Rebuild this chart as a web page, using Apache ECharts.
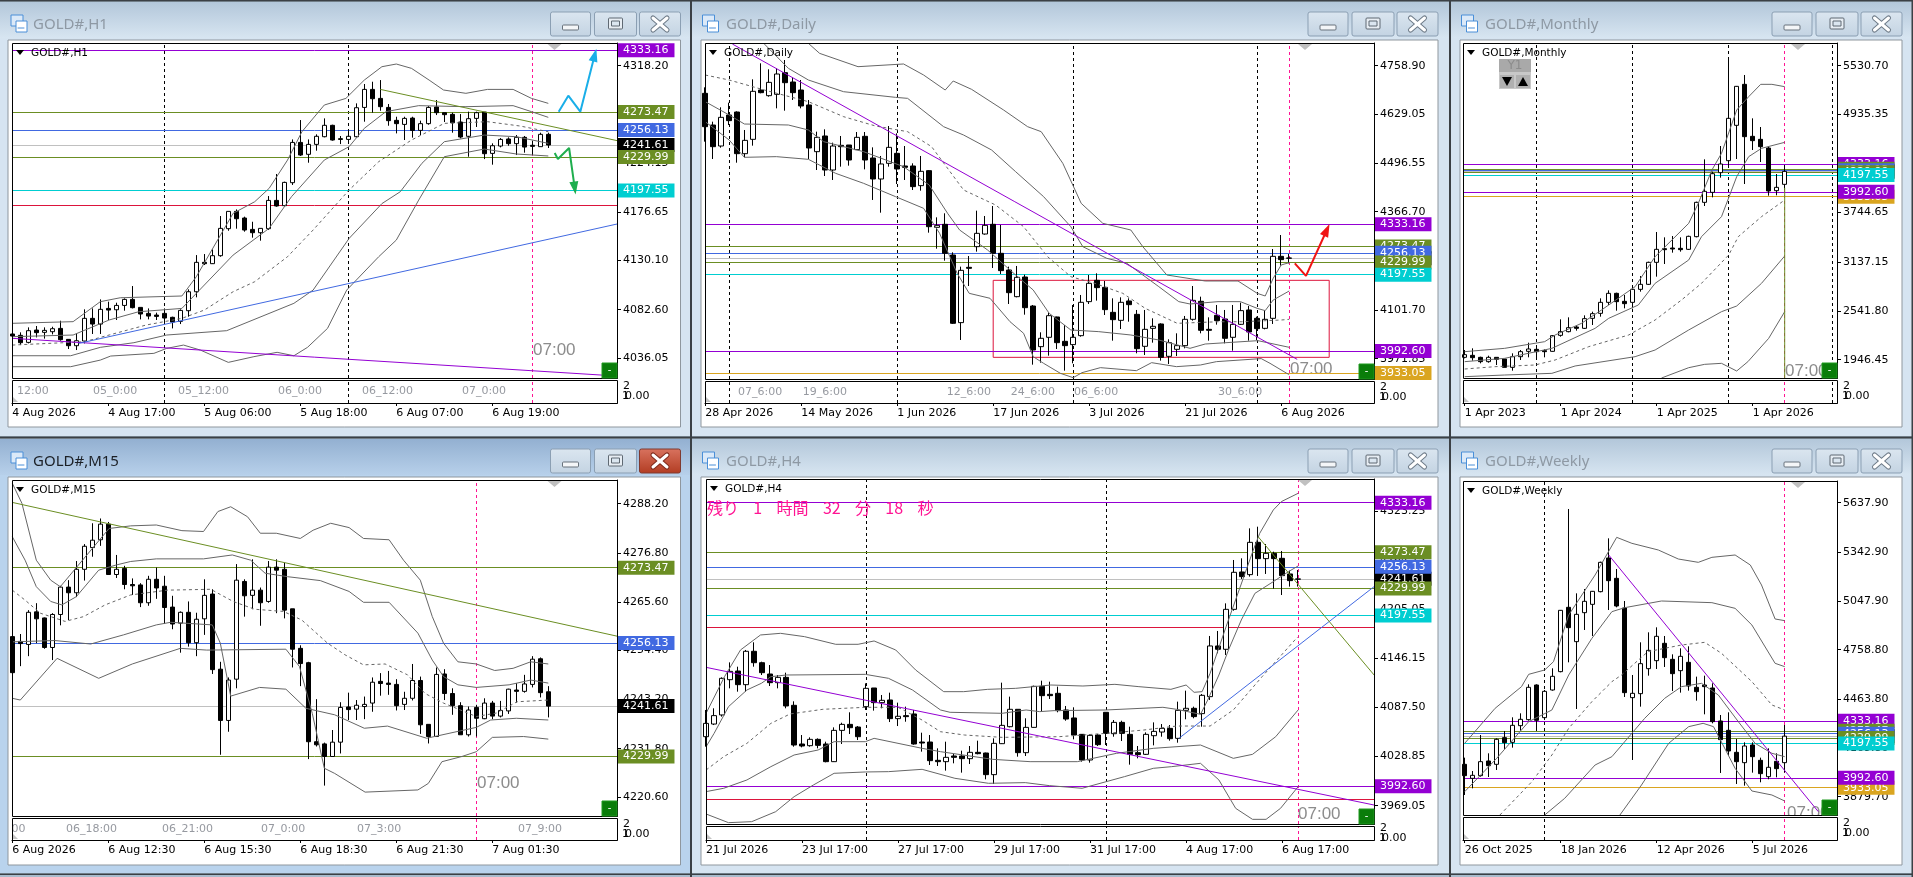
<!DOCTYPE html>
<html><head><meta charset="utf-8">
<style>html,body{margin:0;padding:0;background:#d6e4f1;overflow:hidden}#c{width:1913px;height:877px}</style>
<script src="https://cdn.jsdelivr.net/npm/echarts@6/dist/echarts.min.js"></script>
</head><body><div id="c"></div>
<script>
// ---------- candle rows are [open, high, low, close] ----------
const h1Candles=[[4059.1,4063.6,4053.3,4057.1],[4057.8,4060.7,4048.4,4050.7],[4051,4065.5,4050,4062.3],[4062.9,4066.8,4055.8,4060.4],[4060.7,4065.5,4054.6,4062.6],[4061.3,4066.1,4058.7,4064.2],[4064.5,4071.9,4052.6,4053.6],[4053.9,4053.9,4044.6,4047.8],[4047.8,4059.7,4043.6,4052.6],[4052.3,4082.9,4050,4074.2],[4074.2,4083.8,4059.1,4068.7],[4068.7,4092.5,4059.1,4082.9],[4083.8,4090.3,4072.6,4082.2],[4082.5,4089.3,4072.6,4086.7],[4086.7,4093.5,4081.6,4092.5],[4092.5,4105.4,4083.8,4084.5],[4084.8,4084.8,4073.2,4078.4],[4079,4083.8,4073.2,4076.4],[4077.4,4079.7,4072.6,4076.1],[4079,4083.8,4071,4074.5],[4075.2,4075.8,4064.5,4070.6],[4071.3,4082.9,4068.7,4081.9],[4081.6,4102.2,4075.8,4099.9],[4099.9,4135.3,4094.5,4128.3],[4128.3,4136.3,4125.7,4127],[4127,4140.8,4126.7,4134.7],[4134.7,4173,4133.7,4161.1],[4160.8,4177.5,4158.8,4177.5],[4177.5,4179.4,4160.8,4170.4],[4171.1,4172.4,4157.9,4159.5],[4160.1,4167.5,4152.1,4156.9],[4156.9,4161.1,4149.2,4161.1],[4160.8,4192.3,4159.5,4188.1],[4188.1,4213.6,4182,4182.7],[4183,4206.2,4182.7,4205.5],[4205.2,4247,4203,4244.1],[4244.1,4265.7,4231,4231.9],[4232.6,4247,4224.5,4242.2],[4242.2,4251.9,4236.1,4250],[4249.6,4267.3,4249,4260.6],[4260.6,4261.2,4245.8,4246.4],[4247.7,4250.3,4242.5,4247],[4247,4256,4244.8,4250],[4249.6,4281.8,4249,4277.6],[4277.9,4300.5,4264.1,4295.3],[4295.3,4302.7,4272.8,4286.3],[4286.6,4304.3,4274.7,4278.6],[4277.9,4281.2,4260.2,4265.1],[4265.4,4268.9,4252.8,4262.2],[4261.5,4268.9,4246.4,4267.3],[4267.6,4268.9,4248.7,4255.7],[4255.7,4265.1,4251.2,4262.2],[4262.2,4279.2,4261.2,4277.9],[4278.3,4285,4270.5,4272.8],[4272.8,4272.8,4263.8,4270.9],[4271.2,4272.8,4253.5,4263.1],[4263.8,4271.5,4248,4249.3],[4250,4273.8,4230.3,4267],[4267.3,4273.8,4259,4272.8],[4273.4,4273.4,4228,4233.2],[4233.5,4243.2,4222.6,4240.9],[4240.6,4248.3,4239.3,4247],[4247.4,4249,4240.9,4242.9],[4242.9,4251.2,4231.9,4249],[4249,4250.3,4234.2,4239.6],[4241.3,4245.8,4231.9,4240.3],[4240,4253.5,4240,4251.9],[4251.9,4253.5,4238.7,4241.6]];
const m15Candles=[[4257.6,4258,4249.3,4249.3],[4256.5,4258.2,4250.8,4256],[4255.8,4263.7,4253.1,4263.2],[4263.3,4265.3,4256.1,4261.7],[4261.9,4262,4254.8,4255.1],[4255.1,4263,4252.2,4262.7],[4262.7,4269.3,4260.2,4269],[4269,4270.6,4261.4,4267.7],[4267.7,4275,4266.7,4273.1],[4273.1,4278.9,4270.5,4278.4],[4278.1,4283.7,4276,4279.8],[4279.9,4284.8,4278.5,4283.5],[4283.5,4284,4271.9,4271.9],[4271.9,4276.4,4271.1,4273.1],[4273.3,4273.9,4268.5,4269.6],[4269.6,4271,4267.2,4269.3],[4269.5,4269.9,4264.4,4265.4],[4265.4,4271.6,4264.7,4270.8],[4270.8,4273.5,4266.3,4268.8],[4269.2,4271.6,4260.5,4264.3],[4264.4,4267,4259.3,4260.5],[4260.7,4263.4,4253.9,4263.2],[4263.2,4265.7,4255.3,4256.2],[4256.2,4263.1,4253.1,4261.6],[4261.7,4270.8,4258,4267.1],[4267.4,4268.5,4249,4250],[4250.1,4251.8,4230.4,4238.3],[4238.3,4248.2,4235.7,4247.6],[4247.8,4274.3,4245.7,4270.6],[4270.3,4270.8,4262.2,4267],[4267.1,4275.4,4263.9,4268.3],[4268.3,4268.9,4260.1,4265.4],[4265.7,4275,4265.4,4273.6],[4273.6,4275.4,4263,4272.9],[4273.1,4274.6,4261.8,4263.7],[4264,4264,4250.5,4254.7],[4254.9,4255.6,4246.2,4251.4],[4251.6,4251.8,4229.4,4233.4],[4233.4,4243.2,4232.3,4232.7],[4232.9,4233.2,4223.3,4230],[4230,4236.1,4230,4233.3],[4233.3,4242.5,4230.7,4241.3],[4241.4,4244.7,4238.4,4240.8],[4240.9,4243,4238.4,4241.8],[4241.5,4243.8,4238.6,4242],[4242.3,4248.2,4240.3,4247.1],[4247.3,4249.2,4244,4246.8],[4246.9,4249.7,4244.2,4246.6],[4246.6,4247.8,4240.6,4241.7],[4242,4244.9,4240.7,4243.4],[4243.4,4251.3,4242.9,4247.5],[4247.5,4248.4,4235.2,4237.3],[4237.4,4237.4,4233,4234.6],[4234.6,4250.5,4234.6,4248.9],[4249,4250.1,4243,4244.5],[4244.5,4245.7,4239.6,4241.7],[4241.7,4242.5,4235,4235],[4235,4241.5,4234.6,4240.7],[4241.3,4241.9,4234.6,4238.8],[4238.7,4243.4,4238.6,4242.3],[4242.3,4242.8,4238.6,4239.3],[4239.3,4242.8,4239,4240.6],[4240.5,4245.6,4239.8,4245.5],[4245.3,4246.9,4242.4,4245],[4245,4248.8,4244.7,4246.7],[4246.6,4253.1,4245.9,4252.4],[4252.5,4252.8,4243.6,4244.7],[4244.9,4246.2,4239,4241.6]];
const dailyCandles=[[4684.6,4700.7,4554.8,4595],[4599.5,4608.5,4508.2,4541.3],[4543.1,4647,4538.6,4620.1],[4626.4,4659.5,4599.5,4611.2],[4634.4,4636.2,4498.3,4522.5],[4522.5,4586.1,4512.7,4558.3],[4561,4722.2,4544,4690],[4693.5,4765.2,4684.6,4686.4],[4678.3,4749.1,4675.6,4714.1],[4681.9,4751.7,4644.3,4736.5],[4740.1,4774.1,4638,4713.2],[4715,4727.6,4666.7,4686.4],[4693.5,4720.4,4644.3,4650.6],[4653.3,4666.7,4508.2,4537.7],[4527.9,4581.6,4478.6,4566.4],[4570,4587.9,4462.5,4478.6],[4478.6,4552.1,4451.8,4543.1],[4544.9,4570,4487.6,4541.3],[4545.8,4545.8,4490.3,4505.5],[4533.3,4580.7,4532.4,4566.4],[4569.1,4580.7,4480.4,4505.5],[4510.9,4539.5,4398.1,4454.5],[4454.5,4516.3,4364,4494.8],[4496.6,4596.8,4487.6,4539.5],[4523.4,4577.1,4441,4481.3],[4489.4,4543.1,4451.8,4485.8],[4489.4,4496.6,4424.9,4433.9],[4436.6,4516.3,4423.1,4475.1],[4476.9,4478.6,4310.3,4326.4],[4324.6,4351.5,4267.3,4330],[4332.7,4362.3,4235.1,4254.8],[4250.3,4257.5,4065,4066.8],[4068.6,4219,4022,4209.1],[4217.2,4247.6,4167,4214.5],[4272.7,4369.4,4259.3,4308.5],[4306.7,4355.1,4304.9,4330],[4332.7,4381.9,4215.4,4254.8],[4254.8,4330.9,4199.3,4208.3],[4210,4219,4118.7,4149.1],[4138.4,4220.8,4136.6,4190.3],[4191.2,4197.5,4090,4108.8],[4113.3,4116,3955.7,3995.1],[4004.1,4042.6,3961.1,4026.5],[4029.2,4095.4,3979.9,4087.3],[4083.8,4084.7,3997.8,4014.8],[4018.4,4062.3,3939.6,4006.8],[4009.5,4116,3959.3,4029.2],[4033.6,4142.9,4030.9,4123.2],[4125,4196.6,4118.7,4174.2],[4182.3,4201.1,4127.7,4162.6],[4163.5,4180.5,4089.1,4103.5],[4096.3,4133.9,4020.2,4076.6],[4074.8,4136.6,4051.5,4123.2],[4126.8,4133.9,4071.2,4116.9],[4090.9,4102.6,3986.2,3998.7],[4005,4102.6,3981.7,4050.6],[4053.3,4080.2,4014.8,4058.7],[4065,4066.8,3966.5,3975.4],[3978.1,4023.8,3957.5,4014.8],[3996.9,4039.9,3979,4006.8],[4006.8,4086.5,3999.6,4077.5],[4077.5,4167,4073.9,4128.5],[4125.9,4138.4,4039.9,4048],[4050.6,4082.9,4020.2,4048],[4088.3,4116,4063.2,4074],[4078.4,4102.6,4013,4026.5],[4029.2,4116,3993.3,4064.1],[4064.1,4122.3,4062.3,4100.8],[4102.6,4113.3,4020.2,4043.5],[4080.2,4084.7,4022,4052.4],[4053.3,4102.6,4050.6,4077.5],[4080.2,4266.4,4065,4246.7],[4246.7,4304,4221.7,4237.8],[4242.3,4253,4227.9,4241.6]];
const h4Candles=[[4052,4084.1,4040,4068],[4067.2,4086.1,4066,4077.3],[4078.1,4123.3,4076.1,4122.1],[4120.5,4141.3,4110.1,4130.5],[4130.9,4136.1,4106.1,4114.5],[4114.5,4156.2,4106.1,4154.6],[4154.6,4165.4,4136.1,4140.9],[4140.9,4142.1,4126.1,4128.9],[4127.3,4138.1,4112.9,4116.9],[4116.9,4126.1,4110.1,4123.3],[4123.3,4128.9,4086.1,4088.9],[4089.7,4094.5,4040,4042],[4043.2,4054,4039.2,4040.8],[4041.2,4051.2,4040,4048.8],[4048.8,4050,4038,4041.6],[4043.2,4046,4021.2,4022],[4022,4063.2,4021.6,4059.6],[4059.6,4068.8,4043.2,4066.8],[4066.8,4081.3,4055.2,4062.8],[4063.6,4064.8,4048,4052],[4088.1,4116.1,4084.1,4110.1],[4110.5,4110.5,4083.3,4092.9],[4092.9,4102.1,4086.1,4095.7],[4096.1,4104.9,4069.6,4073.7],[4073.7,4092.9,4064.8,4076.5],[4077.3,4088.1,4070,4076.1],[4079.3,4084.1,4042.4,4043.2],[4045.6,4056.8,4034,4044.4],[4045.6,4054,4018,4023.2],[4023.6,4038,4016.8,4022],[4022,4046,4011.2,4027.2],[4028.8,4031.2,4020,4027.2],[4028.8,4035.2,4008.8,4025.6],[4025.6,4040.8,4019.2,4033.2],[4033.2,4047.2,4030.8,4031.6],[4032.4,4032.8,4000.8,4006.4],[4006.4,4050,3995.2,4044],[4043.6,4116.9,4043.2,4065.6],[4064,4100.1,4063.2,4084.9],[4084.9,4084.9,4028,4032.8],[4032.8,4074.1,4028.8,4063.2],[4063.2,4113.3,4062.8,4112.5],[4112.5,4119.3,4082.1,4101.3],[4102.9,4118.1,4097.3,4101.3],[4104.1,4112.1,4081.3,4083.3],[4084.1,4088.9,4071.2,4073.2],[4074.5,4087.3,4048.8,4054],[4054.8,4055.2,4022,4024],[4024,4054.8,4020.8,4053.6],[4054,4055.2,4040.8,4042.4],[4081.3,4081.3,4042,4056],[4055.6,4072,4052,4069.2],[4069.2,4071.2,4046.8,4056],[4054.8,4064,4018.4,4030.8],[4032.8,4040.8,4026,4030.4],[4030.8,4057.2,4030,4054.8],[4053.2,4069.2,4041.6,4058.4],[4057.6,4067.2,4052,4062],[4062,4066,4047.2,4049.6],[4050,4094.1,4044.8,4083.7],[4083.7,4107.3,4072.9,4086.1],[4086.1,4088.1,4074.1,4076.1],[4079.7,4103.3,4064,4101.7],[4100.1,4173,4096.1,4161],[4161,4179,4152.2,4157],[4157,4212.2,4150.2,4205],[4205,4264.3,4203.4,4249.5],[4249.9,4266.3,4241.5,4244.3],[4246.7,4302.3,4244.3,4285.5],[4285.5,4304.3,4245.1,4265.9],[4265.9,4283.5,4247.5,4272.3],[4272.3,4274.3,4229.9,4265.9],[4266.3,4275.1,4222.2,4245.5],[4247.5,4251.5,4232.3,4239.5],[4241.1,4252.3,4232.3,4241.6]];
const monthlyCandles=[[1974.9,2064.3,1962.7,2007.4],[1999.3,2084.6,1934.3,1970.8],[1974.9,1983,1901.8,1922.1],[1922.1,1995.2,1909.9,1974.9],[1974.9,1974.9,1881.4,1950.5],[1954.6,1954.6,1853,1853],[1853,2023.7,1812.4,1983],[1983,2064.3,1942.4,2044],[2048.1,2153.7,1974.9,2076.5],[2072.4,2105,1974.9,2044],[2056.2,2072.4,1974.9,2044],[2048.1,2247.2,2044,2239.1],[2243.1,2438.2,2226.9,2287.8],[2287.8,2462.6,2279.7,2336.6],[2344.7,2369.1,2300,2328.5],[2328.5,2486.9,2320.3,2446.3],[2450.4,2531.6,2369.1,2507.2],[2511.3,2694.2,2470.7,2645.4],[2645.4,2791.7,2612.9,2755.1],[2755.1,2763.2,2543.8,2653.6],[2657.6,2734.8,2572.3,2629.2],[2645.4,2836.4,2572.3,2803.9],[2803.9,2966.5,2775.5,2864.9],[2864.9,3141.2,2856.7,3133.1],[3133.1,3502.9,2958.3,3291.6],[3299.7,3437.8,3112.7,3287.5],[3307.8,3454.1,3250.9,3295.6],[3303.7,3437.8,3263.1,3287.5],[3291.6,3458.2,3283.4,3450],[3446,3872.7,3437.8,3864.5],[3864.5,4388.8,3819.8,3998.6],[3986.4,4238.4,3925.5,4214],[4226.2,4551.3,4165.2,4331.9],[4372.5,5599.7,4311.5,4888.6],[4803.2,5282.8,4392.8,5278.7],[5303.1,5416.9,4088,4665.1],[4669.1,4888.6,4502.5,4616.3],[4632.6,4782.9,4356.2,4543.2],[4526.9,4543.2,3945.8,4002.7],[4006.8,4209.9,3949.9,4047.4],[4084,4319.7,4014.9,4241.6]];
const weeklyCandles=[[4073.1,4113,3889.7,4005.3],[3989.4,4033.2,3929.6,4007.3],[4005.3,4248.5,3999.3,4089],[4093,4138.9,3997.3,4065.1],[4073.1,4228.6,4039.2,4222.6],[4232.6,4272.4,4164.8,4202.7],[4204.6,4354.2,4172.8,4306.3],[4304.3,4378.1,4274.4,4342.2],[4340.2,4551.5,4334.2,4533.6],[4547.5,4551.5,4272.4,4336.2],[4352.2,4517.6,4338.2,4509.6],[4517.6,4647.2,4513.6,4599.4],[4627.3,4996.1,4623.3,4994.1],[5012,5600.1,4683.1,4890.4],[4806.7,5095.7,4404,4970.1],[4980.1,5121.6,4876.4,5047.9],[5029.9,5109.7,4840.6,5107.7],[5105.7,5285.1,5101.7,5281.1],[5307,5424.6,4996.1,5171.5],[5185.4,5241.2,5012,5020],[5008,5049.9,4475.8,4501.7],[4471.8,4607.3,4099,4497.7],[4495.7,4802.7,4418,4675.1],[4645.2,4862.5,4603.3,4754.8],[4693,4892.4,4643.2,4838.6],[4796.7,4840.6,4655.2,4711],[4701,4730.9,4511.6,4615.3],[4633.2,4766.8,4501.7,4719],[4683.1,4778.8,4513.6,4541.6],[4533.6,4597.4,4453.8,4507.7],[4547.5,4603.3,4372.1,4537.6],[4529.6,4557.5,4318.3,4328.3],[4332.2,4368.1,4021.3,4220.6],[4276.4,4384.1,4124.9,4152.8],[4144.9,4224.6,3955.5,4089],[4083,4204.6,3945.5,4182.7],[4188.7,4204.6,4023.2,4118.9],[4097,4113,3965.5,4017.3],[3999.3,4168.8,3983.4,4055.2],[4091,4138.9,3995.3,4047.2],[4083,4308.3,4023.2,4241.6]];

// ---------- Bollinger bands, [bar, price] ----------
const h1Bands=[
 [[0,4069.4],[7.6,4071],[11,4090.3],[13.5,4094.1],[21.2,4095.8],[23,4114.4],[27.6,4175.6],[30.3,4186.8],[32.1,4199.7],[34.4,4227],[36.2,4254.4],[39,4280.2],[41.7,4286.6],[44,4304.3],[46.2,4317.2],[48,4319.8],[49.9,4315.6],[52.1,4304.3],[53.9,4294.7],[56.7,4291.5],[59.4,4295.3],[62.6,4295.3],[64.9,4286.6],[67,4281.8]],
 [[0,4056.5],[7.6,4058.1],[12.1,4072.6],[15.8,4080.6],[21.2,4083.8],[23,4098.3],[27.6,4135.3],[32.1,4161.1],[34.9,4191.7],[39,4227.1],[42.1,4240],[44,4257.7],[46.7,4273.8],[50.8,4279.6],[56.7,4278.6],[62.6,4279.6],[64.9,4273.8],[67,4268.3]],
 [[0,4048.4],[9,4051.6],[12.1,4058.1],[16.7,4067.7],[21.2,4074.2],[24,4082.2],[27.6,4099.9],[30.3,4109.6],[34.4,4133.7],[37.6,4159.5],[42.1,4198.1],[45.8,4225.5],[49.9,4246.4],[54,4262.5],[59.4,4264.1],[63.5,4259.9],[67,4254.4]],
 [[0,4038.1],[7.3,4038.1],[11,4046.2],[15.2,4050.7],[19.3,4058.1],[26.8,4062.3],[35.2,4088.7],[37.6,4101.5],[42.1,4151.4],[46.2,4185],[48.5,4196.5],[51.2,4223.9],[54,4244.8],[59,4251.2],[63,4249.6],[67,4243.2]],
 [[0,4027.5],[7.3,4027.5],[11,4033.9],[12.3,4037.8],[17.7,4040.4],[19.3,4045.2],[21.4,4048.4],[23.5,4043.6],[27,4031.7],[30.2,4037.2],[33.1,4041.4],[35.2,4038.1],[36.9,4046.2],[39.4,4064.5],[41.8,4101.5],[45.8,4133.7],[48,4149.8],[50.8,4188.4],[54,4230.3],[59,4237.7],[63,4232.9],[67,4231]]];
const m15Bands=[
 [[0,4292.9],[1.2,4288.3],[3,4275.2],[4.8,4270.6],[6,4269.1],[12.1,4282.5],[14.8,4283.1],[18,4283.3],[21.2,4282],[23.9,4281.8],[25.7,4286.4],[27.3,4287.5],[29.4,4285.2],[31,4281.4],[33,4281.4],[36,4280.2],[37.6,4282.1],[39.8,4283.7],[42.1,4282.7],[43.9,4280.2],[47.1,4279.9],[48.9,4275.2],[51,4270.6],[52.5,4262.2],[53.9,4256.1],[55.7,4251.8],[58,4251.3],[60.3,4249.8],[62.6,4250.3],[64.8,4251.8],[67,4251.3]],
 [[0,4280.6],[1.6,4275.2],[3,4269.1],[4.8,4265.7],[6.2,4264.9],[8,4266.8],[10.8,4272.9],[13,4274.1],[14.8,4274.9],[18,4275.5],[23.9,4275.5],[27.5,4276.4],[29.8,4275.2],[31.6,4272.2],[34.4,4271.4],[38.5,4270.5],[42.1,4268],[43.9,4265.5],[47.1,4265.5],[50.7,4258.4],[52.5,4252.2],[53.9,4248.4],[55.7,4246.5],[58,4245.9],[62.1,4246.5],[64.8,4247.6],[67,4246.9]],
 [[0,4268.3],[1.6,4266],[3.5,4263],[6.6,4261.1],[8.9,4262.2],[11.6,4264.9],[14.8,4267.2],[19.4,4268.3],[24.8,4268.5],[27.6,4265.7],[30.3,4263.9],[33.9,4263.4],[36.2,4261.4],[39.4,4256.1],[41.6,4253.4],[43.9,4251.1],[46.6,4251.3],[49.4,4248.8],[51.6,4244.5],[53.9,4242.3],[58,4239.2],[60.5,4240],[63.1,4242.6],[67,4243]],
 [[0,4256.4],[5.3,4256.7],[9.8,4255.9],[13.9,4258],[18,4260.3],[19.8,4260.9],[25,4260.3],[26,4256.1],[27.3,4243.9],[30.9,4245.9],[34.2,4245.5],[36.7,4241.1],[40.3,4239.6],[44,4236.5],[46.9,4237],[51.8,4234.2],[56,4235.9],[58,4236.7],[59.8,4238.4],[63,4238.8],[67,4238.4]],
 [[0,4243.4],[1,4243],[5.6,4252.6],[10.8,4248],[15,4251.3],[21,4254.9],[24.3,4254.5],[34.2,4254.7],[35.9,4250.7],[37.5,4239.9],[39,4227.3],[40.3,4226.1],[44.1,4221.8],[50.7,4222.3],[52,4223.8],[53.7,4228.8],[56.2,4230],[58,4231.1],[60,4234.4],[63.9,4234.6],[67,4234]]];
const dailyBands=[
 [[12.9,4818.9],[14.3,4792],[19.1,4756.2],[24.8,4763.4],[27.3,4733.8],[30,4693.5],[31,4717.7],[33.3,4695.3],[37.3,4639.8],[40.3,4595],[42,4581.6],[44.7,4496.6],[47,4389.1],[49.7,4335.4],[53.2,4317.5],[54.7,4272.7],[57.7,4196.6],[62.5,4180.5],[66.6,4180.5],[69,4147.3],[70,4140.2],[71,4187.6],[72,4223.5],[73,4229.7]],
 [[7.4,4817],[10.4,4751.7],[12.9,4720.4],[17.3,4689],[23.8,4673.8],[25.3,4671.1],[29.8,4595],[32.3,4572.6],[35.8,4532.4],[38.8,4474.2],[42.3,4407],[45.7,4326.4],[47.2,4272.7],[50.2,4241.4],[52.7,4228],[56.7,4165.3],[59.2,4125],[60.6,4118.7],[64.1,4125],[66.9,4125],[69,4107],[70,4100.8],[71,4129.4],[73,4153.6]],
 [[0,4733.8],[3,4720.4],[7.4,4693.5],[12.9,4662.2],[17.3,4621.9],[21.3,4596.8],[25.3,4581.6],[28.3,4541.3],[32.3,4424.9],[36.3,4384.6],[39.8,4326.4],[42.8,4245.8],[45.7,4192],[48.7,4174.2],[52.2,4147.3],[55,4107],[59,4066.8],[64.1,4071],[67,4071],[72,4075.7],[73,4077.5]],
 [[0,4662.2],[3,4626.4],[4.9,4602.2],[10.4,4599.5],[12.9,4586.1],[14.8,4554.8],[19.8,4527.9],[24.8,4487.6],[28,4438.3],[30.3,4362.2],[31.8,4317.5],[35.3,4263.7],[38.8,4196.6],[41,4156.3],[43,4093.6],[45.7,4048.9],[49.2,4044.4],[53.2,4035.4],[56.7,4022],[60.6,3999.6],[62.5,4011.2],[69.1,4020.2],[73,4002.3]],
 [[0,4608.5],[3,4559.2],[4.9,4512.7],[8.9,4514.5],[12.9,4507.3],[16.3,4469.7],[19.8,4442.8],[23.8,4407],[27.3,4375.7],[29.3,4308.5],[31.5,4201.1],[33,4147.3],[35.6,4134],[38.1,4071.2],[39.8,4039.9],[41,3977.2],[42.3,3959.3],[44.4,3932.4],[46,3920.8],[47.1,3934.2],[49.4,3947.7],[53.9,3939.6],[55.8,3961.1],[58.9,3950.4],[61.9,3954.8],[63.9,3963.8],[69.5,3972],[70.6,3959.3],[72.7,3932.4],[73,3929]]];
const h4Bands=[
 [[0,4080.1],[2.3,4124.1],[4.3,4156.2],[6.8,4174.2],[9.3,4176.2],[12.3,4172.2],[16.2,4163],[19,4163],[21,4167],[23.7,4156.2],[26.2,4132.1],[29.7,4106.1],[32.2,4106.1],[35.2,4108.9],[38.7,4110.1],[43.1,4114.1],[47.1,4112.9],[51.1,4114.9],[54.1,4112.1],[58.1,4108.9],[60,4114.1],[61,4105.3],[62,4106.1],[63,4128.1],[65,4184.2],[68.4,4276.3],[69.2,4296.3],[70.9,4324.4],[71.9,4334.4],[74,4344.4]],
 [[0,4040],[1,4056],[2.8,4088.1],[5.1,4108.1],[6.9,4116.1],[8.1,4124.1],[10,4126.1],[19.9,4126.9],[22.8,4122.1],[25.8,4108.1],[29.3,4084.1],[30.5,4081.3],[37,4080.1],[40,4084.1],[41.7,4082.1],[43.5,4083.3],[50,4084.1],[57.1,4087.3],[58.8,4084.9],[61.8,4078.9],[62.7,4096],[64.1,4126.1],[65.3,4156.2],[66.9,4192.2],[68.6,4224.2],[70.9,4238.3],[72.8,4250.3],[74,4257.1]],
 [[0,4012],[2.2,4028],[5.1,4044],[8.1,4068],[10.5,4079.3],[14.6,4084.9],[19.9,4087.3],[24,4087.3],[27,4072],[29.3,4058],[32.3,4054],[37,4051.2],[44.1,4052],[50,4056],[54.7,4060],[58.8,4064.8],[63,4064.8],[65.9,4084.1],[69.5,4124.1],[73.6,4168.2],[74,4172]],
 [[0,3986],[2.2,3990],[5.1,4000],[8.1,4016],[11,4030],[14,4036],[16,4046],[19.9,4046],[21,4050],[27,4038],[29.3,4034],[35.8,4024.8],[40.5,4022],[46.4,4022],[51.3,4032],[55.9,4038],[61.8,4042],[65.9,4026],[68.3,4030.8],[71.2,4052],[74,4084.1]],
 [[0,3959.1],[2.8,3948.7],[5.7,3949.9],[8.7,3961.9],[11,3979.9],[13.4,3993.9],[16,4008],[19.9,4009.6],[22.8,4010],[27,4012.8],[31.1,4002],[35.3,3996],[39.9,3996.8],[42.9,3993.2],[47,3990],[52.3,4004],[55.9,4014],[58.2,4016],[61.8,4020],[64.1,4000],[66.2,3965.9],[68.3,3952.7],[70,3952.7],[71.8,3965.9],[74,3991.9]]];
const monthlyBands=[
 [[0,2044],[5,2084.6],[10,2165.9],[11.3,2247.2],[14.6,2389.4],[17.1,2552],[21.3,2836.4],[23.8,3202.2],[28,3608.5],[29.2,3852.3],[30.9,4258.7],[32.1,4461.9],[34,4990.2],[35.5,5152.7],[37,5303.1],[38.4,5303.1],[40,5274.6]],
 [[0,1922.1],[5,1962.7],[10.9,2084.6],[16.3,2328.5],[18,2450.4],[21.7,2612.9],[23.8,2877.1],[28,3161.5],[29.6,3446],[32.1,3689.8],[34,4177.4],[35.5,4421.3],[37.1,4522.9],[40,4596]],
 [[0,1832.7],[3.8,1861.2],[8.8,1881.4],[11.3,1942.4],[15.5,2105],[20.5,2247.2],[23.8,2430],[27.1,2673.9],[29.6,2877.1],[33,3222.5],[34.2,3446],[37.1,3689.8],[40,3893]],
 [[0,1739.2],[5,1759.5],[10.9,1779.9],[13.8,1869.3],[21.3,1983],[23.8,2064.3],[28,2308.2],[32.1,2531.6],[34,2600.7],[37.1,2877.1],[40,3210.3]],
 [[24.6,1723],[28,1848.9],[30,1889.6],[32.1,1901.8],[34,1808.3],[35.4,1922.1],[38,2206.5],[40,2531.6]]];
const weeklyBands=[
 [[0,4198.7],[3.8,4408],[7.1,4537.6],[8,4611.3],[10,4637.2],[11.1,4687.1],[13,4966.2],[16.3,5205.4],[19,5430.6],[20.9,5394.7],[24.2,5354.9],[26.7,5301],[29.2,5281.1],[30.9,5311],[33.8,5325],[35.7,5265.2],[37.1,5145.6],[38.8,4942.2],[40,4932.3]],
 [[0,3909.6],[4,4109],[8,4328.3],[10.9,4398],[13,4607.3],[15.9,4826.6],[18.4,4986.1],[20,5010],[24.6,5049.9],[30.9,5039.9],[33.8,5006],[35.9,4906.3],[38.8,4677.1],[40,4657.2]],
 [[4.4,3770],[8.4,3969.4],[10.9,4128.9],[13,4288.4],[15.9,4447.9],[18.4,4567.5],[19.6,4607.3],[22.9,4746.9],[27.1,4786.7],[30,4802.7],[32.1,4736.9],[35.9,4567.5],[38.4,4427.9],[40,4398]],
 [[10,3770],[12.5,3869.8],[16.3,4069.1],[18.4,4118.9],[22.5,4348.2],[25,4467.8],[27.1,4537.6],[29.6,4557.5],[31.7,4487.7],[34.2,4328.3],[36.3,4198.7],[38.4,4138.9],[40,4118.9]],
 [[19.4,3770],[22.1,3949.5],[25.5,4198.7],[28,4298.4],[29.8,4318.3],[31.1,4298.4],[33.8,4049.2],[35.9,3913.6],[38.4,3889.7],[40,3853.8]]];

// ---------- price levels, axis ticks, labels ----------
const levelValues=[4333.16,3933.05,3992.60,4273.47,4241.61,4256.13,4229.99,4197.55];
const levelColors=['#9400d3','#daa520','#9400d3','#6b8e23','#000000','#4169e1','#6b8e23','#00ced1'];
const h1Ticks=[4318.20,4271.00,4224.15,4176.65,4130.10,4082.60,4036.05];
const m15Ticks=[4288.20,4276.80,4265.60,4254.40,4243.20,4231.80,4220.60];
const dailyTicks=[4758.90,4629.05,4496.55,4366.70,4234.20,4101.70,3971.85];
const h4Ticks=[4323.25,4264.15,4205.05,4146.15,4087.50,4028.85,3969.05];
const monthlyTicks=[5530.70,4935.35,4340.00,3744.65,3137.15,2541.80,1946.45];
const weeklyTicks=[5637.90,5342.90,5047.90,4758.80,4463.80,4169.80,3879.70];
const h1Times=['4 Aug 2026','4 Aug 17:00','5 Aug 06:00','5 Aug 18:00','6 Aug 07:00','6 Aug 19:00'];
const m15Times=['6 Aug 2026','6 Aug 12:30','6 Aug 15:30','6 Aug 18:30','6 Aug 21:30','7 Aug 01:30'];
const dailyTimes=['28 Apr 2026','14 May 2026','1 Jun 2026','17 Jun 2026','3 Jul 2026','21 Jul 2026','6 Aug 2026'];
const h4Times=['21 Jul 2026','23 Jul 17:00','27 Jul 17:00','29 Jul 17:00','31 Jul 17:00','4 Aug 17:00','6 Aug 17:00'];
const monthlyTimes=['1 Apr 2023','1 Apr 2024','1 Apr 2025','1 Apr 2026'];
const weeklyTimes=['26 Oct 2025','18 Jan 2026','12 Apr 2026','5 Jul 2026'];
const h1Sessions=[[0.6,'12:00'],[10.1,'05_0:00'],[20.7,'05_12:00'],[33.2,'06_0:00'],[43.7,'06_12:00'],[56.2,'07_0:00']];
const m15Sessions=[[-0.1,'00'],[6.7,'06_18:00'],[18.7,'06_21:00'],[31.1,'07_0:00'],[43.1,'07_3:00'],[63.2,'07_9:00']];
const dailySessions=[[4.1,'07_6:00'],[12.2,'19_6:00'],[30.2,'12_6:00'],[38.2,'24_6:00'],[46.1,'06_6:00'],[64.1,'30_6:00']];

// ---------- trend lines and drawn arrows, [bar, price] ----------
const h1BlueTrend=[[8.3,4050],[75.6,4165.3]];
const h1PurpleTrend=[[0,4054.9],[75.6,4018.5]];
const h1OliveTrend=[[46,4295.3],[75.6,4245.8]];
const h1BlueArrow=[[68.3,4273.8],[69.5,4289.2],[71,4273.8],[72.8,4328.5]];
const h1GreenArrow=[[67.8,4233.9],[68.2,4228.1],[69.6,4238.7],[70.3,4200.1]];
const m15OliveTrend=[[0,4288.5],[75.6,4257.7]];
const dailyPurpleTrend=[[3.4,4817],[74,3970]];
const dailyRedArrow=[[73.7,4228],[75.1,4194],[77.7,4317.5]];
const dailyRedBox=[[36,4182.3],[78,3975.4]];
const h4PurpleTrend=[[0,4135.3],[83.5,3969.9]];
const h4BlueTrend=[[59.1,4050],[83.5,4232.3]];
const h4OliveTrend=[[69,4292.3],[83.5,4126.1]];
const monthlyOliveDrop=[[40,4040],[40,1723]];
const weeklyPurpleTrend=[[18,5325],[44.2,3790]];

const PANELS=[
 {name:'GOLD#,H1',candles:h1Candles,bands:h1Bands,ticks:h1Ticks,times:h1Times,sessions:h1Sessions,first:12.3,
  g:[12,43,617,378,380,403],y:[4016.6,4340.1],black:[19,42],pink:65,lvl:[[4183.4,'#dc143c']],
  trends:[[h1PurpleTrend,'#9400d3'],[h1BlueTrend,'#4169e1'],[h1OliveTrend,'#6b8e23']],
  arrows:[[h1BlueArrow,'#19aee8',-15],[h1GreenArrow,'#1fae4e',188]],t0700:[533,350],tri:554.5},
 {name:'GOLD#,Daily',candles:dailyCandles,bands:dailyBands,ticks:dailyTicks,times:dailyTimes,sessions:dailySessions,first:705.2,
  g:[705,43,1374,379,381,403],y:[3917.2,4819.8],black:[3,24,46,69],pink:73,lvl:[],box:dailyRedBox,
  trends:[[dailyPurpleTrend,'#9400d3']],arrows:[[dailyRedArrow,'#f01414',-25]],t0700:[1290,369],tri:1305},
 {name:'GOLD#,Monthly',candles:monthlyCandles,bands:monthlyBands,ticks:monthlyTicks,times:monthlyTimes,sessions:[],first:1464.7,
  g:[1463,43,1837,378,380,403],y:[1723,5807],black:[9,21,33,46],pink:40,lvl:[],
  trends:[[monthlyOliveDrop,'#6b8e23']],arrows:[],t0700:[1785,371],tri:1798,y1:true},
 {name:'GOLD#,M15',candles:m15Candles,bands:m15Bands,ticks:m15Ticks,times:m15Times,sessions:m15Sessions,first:12.3,
  g:[12,480,617,816,818,840],y:[4216.3,4293.66],black:[],pink:58,lvl:[],
  trends:[[m15OliveTrend,'#6b8e23']],arrows:[],t0700:[477,783],tri:554.5},
 {name:'GOLD#,H4',candles:h4Candles,bands:h4Bands,ticks:h4Ticks,times:h4Times,sessions:[],first:706.1,
  g:[706,479,1374,824,826,840],y:[3947.1,4361.6],black:[20,50],pink:74,lvl:[[4183,'#dc143c'],[3976.7,'#dc143c']],
  trends:[[h4PurpleTrend,'#9400d3'],[h4BlueTrend,'#4169e1'],[h4OliveTrend,'#6b8e23']],arrows:[],t0700:[1298,814],tri:1305,timer:true},
 {name:'GOLD#,Weekly',candles:weeklyCandles,bands:weeklyBands,ticks:weeklyTicks,times:weeklyTimes,sessions:[],first:1464.7,
  g:[1463,481,1837,815,817,840],y:[3770,5767.5],black:[10],pink:40,lvl:[],
  trends:[[weeklyPurpleTrend,'#9400d3']],arrows:[],t0700:[1787,813],tri:1798}
];
const WINDOWS=[
 {x0:0,x1:690,cl:8,cr:680.5,top:2,bot:436,ct:40,cb:427,p:0},
 {x0:692,x1:1449,cl:701,cr:1438,top:2,bot:436,ct:40,cb:427,p:1},
 {x0:1451,x1:1912,cl:1460,cr:1902,top:2,bot:436,ct:40,cb:427,p:2},
 {x0:0,x1:690,cl:8,cr:680.5,top:439,bot:873,ct:477,cb:865,p:3,active:true},
 {x0:692,x1:1449,cl:701,cr:1438,top:439,bot:873,ct:477,cb:865,p:4},
 {x0:1451,x1:1912,cl:1460,cr:1902,top:439,bot:873,ct:477,cb:865,p:5}
];
const AXF='"DejaVu Sans",sans-serif';
const BAR_PX=8;

const grids=[],xAxes=[],yAxes=[],series=[];
PANELS.forEach((P,k)=>{
 const [l,t,r,b,st,sb]=P.g;
 const xMin=(l-P.first)/BAR_PX,xMax=(r-P.first)/BAR_PX;
 const mi=k*2,si=k*2+1;
 grids.push({left:l,top:t,width:r-l,height:b-t});
 grids.push({left:l,top:st,width:r-l,height:sb-st});
 xAxes.push({gridIndex:mi,type:'value',min:xMin,max:xMax,show:false,splitLine:{show:false}});
 const tv=P.times.map((_,n)=>n*12);
 xAxes.push({gridIndex:si,type:'value',min:xMin,max:xMax,position:'bottom',splitLine:{show:false},
  axisLine:{show:true,onZero:false,lineStyle:{color:'#000'}},
  axisTick:{show:true,length:3,customValues:tv,lineStyle:{color:'#000'}},
  axisLabel:{show:true,customValues:tv,margin:5,align:'left',color:'#000',fontFamily:AXF,fontSize:11,hideOverlap:false,
   formatter:v=>P.times[Math.round(v/12)]}});
 yAxes.push({gridIndex:mi,type:'value',min:P.y[0],max:P.y[1],position:'right',splitLine:{show:false},
  axisLine:{show:true,onZero:false,lineStyle:{color:'#000'}},
  axisTick:{show:true,length:4,customValues:P.ticks,lineStyle:{color:'#000'}},
  axisLabel:{show:true,customValues:P.ticks,margin:6,color:'#000',fontFamily:AXF,fontSize:11,hideOverlap:false,formatter:v=>v.toFixed(2)}});
 yAxes.push({gridIndex:si,type:'value',min:0,max:1,show:false,splitLine:{show:false}});

 const vert=(v,c)=>({xAxis:v,lineStyle:{color:c,type:[3,3],width:1},label:{show:false}});
 const verts=P.black.map(v=>vert(v,'#000')).concat([vert(P.pink,'#ff1493')]);
 const hl=[];
 P.lvl.forEach(([v,c])=>hl.push({yAxis:v,lineStyle:{color:c,width:1,type:'solid'},label:{show:false}}));
 levelValues.forEach((v,n)=>{
  if(v<=P.y[0]||v>=P.y[1])return;
  const c=levelColors[n],black=c==='#000000';
  hl.push({yAxis:v,lineStyle:{color:black?'#c0c0c0':c,width:1,type:'solid'},
   label:{show:true,position:'end',distance:0,formatter:v.toFixed(2),color:'#fff',backgroundColor:c,
    fontFamily:AXF,fontSize:11,lineHeight:12,padding:[1,6]}});
 });
 const levelSeries={type:'line',xAxisIndex:mi,yAxisIndex:mi,data:[],silent:true,symbol:'none',animation:false,
  markLine:{silent:true,symbol:'none',animation:false,z:1,precision:6,data:verts.concat(hl)}};
 if(P.box)levelSeries.markArea={silent:true,animation:false,z:1,
   itemStyle:{color:'rgba(0,0,0,0)',borderColor:'#dc143c',borderWidth:1},
   data:[[{coord:P.box[0]},{coord:P.box[1]}]]};
 series.push(levelSeries);
 P.bands.forEach((d,n)=>series.push({type:'line',xAxisIndex:mi,yAxisIndex:mi,data:d,symbol:'none',silent:true,animation:false,
  lineStyle:{color:'#666',width:1,type:n===2?[3,3]:'solid'}}));
 P.trends.forEach(([d,c])=>series.push({type:'line',xAxisIndex:mi,yAxisIndex:mi,data:d,symbol:'none',silent:true,animation:false,
  lineStyle:{color:c,width:1}}));
 series.push({type:'candlestick',xAxisIndex:mi,yAxisIndex:mi,barWidth:5,silent:true,animation:false,encode:{x:0,y:[1,2,3,4]},
  itemStyle:{color:'#fff',color0:'#000',borderColor:'#000',borderColor0:'#000',borderWidth:1},
  data:P.candles.map((c,i)=>[i,c[0],c[3],c[2],c[1]])});
 P.arrows.forEach(([d,c,rot])=>series.push({type:'line',xAxisIndex:mi,yAxisIndex:mi,symbol:'none',showSymbol:true,showAllSymbol:true,silent:true,animation:false,clip:false,z:4,
  lineStyle:{color:c,width:2},itemStyle:{color:c},
  data:d.map((p,i)=>i===d.length-1?{value:p,symbol:'triangle',symbolSize:[9,13],symbolRotate:rot}:{value:p,symbol:'none'})}));
 series.push({type:'line',xAxisIndex:si,yAxisIndex:si,data:[],silent:true,symbol:'none',animation:false,
  markLine:{silent:true,symbol:'none',animation:false,z:1,data:verts}});
 series.push({type:'scatter',xAxisIndex:si,yAxisIndex:si,symbolSize:0,silent:true,animation:false,clip:false,
  data:P.sessions.map(s=>[s[0],0.5,s[1]]),
  label:{show:true,position:'right',distance:0,color:'#7c8088',fontFamily:AXF,fontSize:11,formatter:p=>p.data[2]}});
});

// ---------- window chrome ----------
const back=[],front=[];
const R=(x,y,w,h,fill,stroke,r)=>({type:'rect',shape:{x,y,width:w,height:h,r:r||0},style:{fill:fill||'none',stroke:stroke||'none',lineWidth:1},silent:true});
const T=(x,y,s,fs,c,ff,al)=>({type:'text',x,y,style:{text:s,font:fs+'px '+(ff||AXF),fill:c,textAlign:al||'left',textVerticalAlign:'middle'},silent:true});
const POLY=(pts,fill)=>({type:'polygon',shape:{points:pts},style:{fill},silent:true});
const L=(x1,y1,x2,y2,c,w)=>({type:'line',shape:{x1,y1,x2,y2},style:{stroke:c,lineWidth:w,lineCap:'round'},silent:true});
const grad=(a,b)=>({type:'linear',x:0,y:0,x2:0,y2:1,colorStops:[{offset:0,color:a},{offset:1,color:b}]});
back.push(R(0,0,1913,877,'#a9bccd'));
const under=[];
WINDOWS.forEach(w=>{
 const P=PANELS[w.p],ww=w.x1-w.x0,a=w.active;
 back.push(R(w.x0,w.top,ww,w.bot-w.top,a?'#b9d3ed':'#d6e4f1'));
 back.push(R(w.x0,w.top,ww,w.ct-w.top-2,grad(a?'#93b0d1':'#b3c7da',a?'#b7d0ea':'#d7e5f1')));
 back.push(R(w.cl,w.ct,w.cr-w.cl,w.cb-w.ct,'#fff','#8f979e'));
 const ix=w.x0+(w.x0?10.5:11),iy=w.top+13;
 back.push(R(ix,iy,12,11,'#dbe9f8','#4a8fd8'));back.push(R(ix+5,iy+6,11,11,'#fff','#4a8fd8'));
 back.push(L(ix+7,iy+13,ix+13,iy+13,'#4a8fd8',1));
 back.push(T(w.x0+(w.x0?34:33),w.top+22.5,P.name,15,a?'#1c2026':'#8e99a4','"Noto Sans",sans-serif'));
 const by=w.top+10,bh=24,r=w.cr;
 [[r-130,40],[r-86,42],[r-41,41]].forEach(([bx,bw],n)=>{
  const red=a&&n===2;
  back.push(R(bx,by,bw,bh,grad(red?'#d9735f':'#dbe6f0',red?'#b23c22':'#c3d3e2'),red?'#7f3a30':'#8b9fb3',2));
  const cx=bx+bw/2,cy=by+bh/2;
  if(n===0)back.push(R(cx-8,cy+1,16,5,'#f4f6f8','#68727c',1));
  if(n===1){back.push(R(cx-7,cy-6,14,11,'#e7edf3','#5f6973',1));back.push(R(cx-4,cy-3,8,5,'#dbe6f0','#5f6973'));}
  if(n===2){back.push(L(cx-7,cy-6,cx+7,cy+6,red?'#7f2a1c':'#6e7b88',5));back.push(L(cx+7,cy-6,cx-7,cy+6,red?'#7f2a1c':'#6e7b88',5));
   back.push(L(cx-7,cy-6,cx+7,cy+6,'#fff',3));back.push(L(cx+7,cy-6,cx-7,cy+6,'#fff',3));}
 });
 const [l,t,pr,b,st,sb]=P.g;
 under.push(T(P.t0700[0],P.t0700[1],'07:00',17,'#8c8c8c','"Liberation Sans",sans-serif'));
 under.push(R(l,b,pr-l,sb-b,'#fff'));
 front.push(R(l+.5,t+.5,pr-l,b-t,null,'#000'));
 front.push(R(l+.5,st+.5,pr-l,sb-st,null,'#000'));
 front.push(POLY([[l+4,t+7],[l+12,t+7],[l+8,t+12]],'#000'));
 front.push(T(l+19,t+10.5,P.name,10.5,'#000'));
 front.push(POLY([[P.tri-7,t+1],[P.tri+7,t+1],[P.tri,t+7]],'#c0c0c0'));
 front.push(R(pr-15,b-15,15,15,'#0a7d0a','#1f9a1f'));
 front.push(T(pr-7.5,b-7.5,'-',10,'#fff',AXF,'center'));
 front.push(POLY([[l+1,sb-6],[l+1,sb-1],[l+6,sb-1]],'#c4c4c4'));
 const sm=(st+sb)/2;
 front.push(T(pr+6,sm-5,'2',11,'#000'));
 front.push(T(pr+5,sm+5,'1',11,'#000'));
 front.push(T(pr+8,sm+5,'0.00',11,'#000'));
 if(P.timer)front.push(T(l+1,t+29,'残り    1    時間    32    分    18    秒',16,'#ff1493','"Noto Sans CJK JP",sans-serif'));
 if(P.y1){
  const bx=1499,by2=59;
  front.push(R(bx,by2,32,30,'#c8c8c8'));
  front.push(R(bx,by2,32,13,'#a9a9a9'));
  front.push(T(bx+16,by2+7,'Y1',12,'#8c8c8c',AXF,'center'));
  front.push(R(bx+1,by2+16,14,13,'#b0b0b0'));front.push(R(bx+17,by2+16,14,13,'#b0b0b0'));
  front.push(POLY([[bx+3,by2+18],[bx+13,by2+18],[bx+8,by2+27]],'#000'));
  front.push(POLY([[bx+19,by2+27],[bx+29,by2+27],[bx+24,by2+18]],'#000'));
 }
});
[[0,0,1913,1.5],[0,436.5,1913,2],[0,873.5,1913,1.5],[690,0,2,877],[1449,0,2,877],[1911.5,0,1.5,877]].forEach(([x,y,w,h])=>back.push(R(x,y,w,h,'#3b4045')));
const layer=(arr,z)=>arr.map(e=>Object.assign(e,{z}));

const chart=echarts.init(document.getElementById('c'),null,{renderer:'canvas',width:1913,height:877});
chart.setOption({animation:false,backgroundColor:'#d6e4f1',tooltip:{show:false},
 graphic:{elements:[...layer(back,-10),...layer(under,-5),...layer(front,6)]},
 grid:grids,xAxis:xAxes,yAxis:yAxes,series});
</script></body></html>
